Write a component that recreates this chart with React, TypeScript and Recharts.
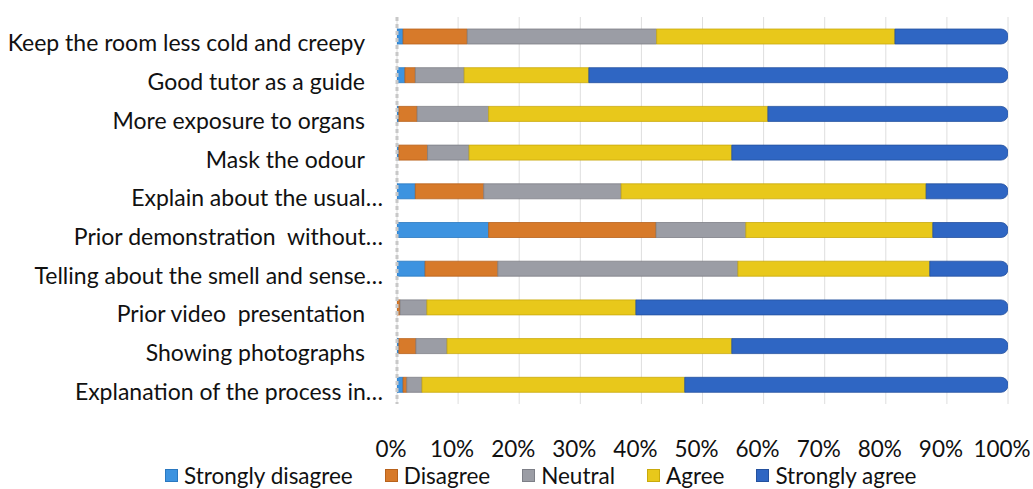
import React from "react";
import { BarChart, Bar, XAxis, YAxis, CartesianGrid, Legend } from "recharts";

const categories = [
  "Keep the room less cold and creepy",
  "Good tutor as a guide",
  "More exposure to organs",
  "Mask the odour",
  "Explain about the usual…",
  "Prior demonstration  without…",
  "Telling about the smell and sense…",
  "Prior video  presentation",
  "Showing photographs",
  "Explanation of the process in…",
];

const stronglyDisagree = [1, 1.3, 0.3, 0.3, 3, 15, 4.6, 0, 0.3, 1];
const disagree = [10.5, 1.7, 3, 4.7, 11.2, 27.4, 11.9, 0.5, 2.8, 0.6];
const neutral = [31, 8, 11.7, 6.8, 22.5, 14.7, 39.3, 4.4, 5.1, 2.5];
const agree = [39, 20.4, 45.7, 43, 49.9, 30.6, 31.4, 34.2, 46.6, 43];
const stronglyAgree = [18.5, 68.6, 39.3, 45.2, 13.4, 12.3, 12.8, 60.9, 45.2, 52.9];

const xTicks = [0, 10, 20, 30, 40, 50, 60, 70, 80, 90, 100];

const seriesNames = ["Strongly disagree", "Disagree", "Neutral", "Agree", "Strongly agree"];
const seriesColors = ["#3d93e0", "#d77a2a", "#9b9da5", "#e8c81b", "#2f66c3"];
const seriesStrokes = ["#2a78c0", "#b8621c", "#7d7f87", "#c9aa0c", "#24519e"];
const seriesKeys = ["sd", "d", "n", "a", "sa"];
const seriesValues = [stronglyDisagree, disagree, neutral, agree, stronglyAgree];

const data = categories.map((name, i) => {
  const row: any = { name };
  seriesKeys.forEach((k, j) => {
    row[k] = seriesValues[j][i];
  });
  return row;
});

const FONT = "Lato, 'Open Sans', sans-serif";
const FS = 23;
const LFS = 22.5;

const YTick = (props: any) => {
  const { x, y, payload } = props;
  const label: string = payload.value;
  const truncated = label.endsWith("…");
  return (
    <text
      x={x}
      y={y + 7}
      dx={truncated ? 0 : -18}
      dy="0.35em"
      textAnchor="end"
      fill="#111"
      fontSize={FS}
      fontFamily={FONT}
      style={{ whiteSpace: "pre" }}
    >
      {label}
    </text>
  );
};

const XTick = (props: any) => {
  const { x, y, payload } = props;
  return (
    <text x={x - 6} y={y} dy="0.71em" textAnchor="middle" fill="#111" fontSize={22.5} fontFamily={FONT}>
      {`${payload.value}%`}
    </text>
  );
};

const LegendContent = () => {
  return (
    <div
      style={{
        display: "flex",
        height: 27,
        lineHeight: "27px",
        paddingLeft: 165,
        fontFamily: FONT,
        fontSize: LFS,
        color: "#111",
        whiteSpace: "nowrap",
      }}
    >
      {seriesNames.map((name, i) => (
        <div key={name} style={{ display: "flex", alignItems: "center", marginRight: 32 }}>
          <svg width={13} height={13} style={{ marginRight: 6 }}>
            <rect x={0.5} y={0.5} width={12} height={12} fill={seriesColors[i]} stroke={seriesStrokes[i]} />
          </svg>
          <span>{name}</span>
        </div>
      ))}
    </div>
  );
};

export default function App() {
  return (
    <div style={{ position: "fixed", left: 0, top: 0, width: 1033, height: 489, overflow: "hidden", background: "#fff" }}>
      <BarChart
        layout="vertical"
        width={1033}
        height={489}
        data={data}
        margin={{ top: 17, right: 25, bottom: 0, left: 0 }}
        barSize={15}
      >
        <CartesianGrid horizontal={false} vertical={true} stroke="#dedede" />
        <XAxis
          type="number"
          domain={[0, 100]}
          ticks={xTicks}
          allowDataOverflow
          axisLine={false}
          tickLine={false}
          tickSize={0}
          tickMargin={37}
          height={58}
          tick={<XTick />}
          interval={0}
        />
        <YAxis
          type="category"
          dataKey="name"
          width={397}
          axisLine={{ stroke: "#c8c8c8", strokeWidth: 3, strokeDasharray: "4 3" }}
          tickLine={false}
          tickSize={0}
          tickMargin={14}
          tick={<YTick />}
          interval={0}
        />
        <Legend verticalAlign="bottom" content={<LegendContent />} wrapperStyle={{ left: 0, bottom: 0, width: 1033 }} />
        {seriesKeys.map((k, j) => (
          <Bar
            key={k}
            dataKey={k}
            name={seriesNames[j]}
            stackId="s"
            fill={seriesColors[j]}
            stroke={seriesStrokes[j]}
            strokeWidth={0.8}
            radius={j === 4 ? [0, 7, 7, 0] : 0}
            isAnimationActive={false}
          />
        ))}
      </BarChart>
    </div>
  );
}
